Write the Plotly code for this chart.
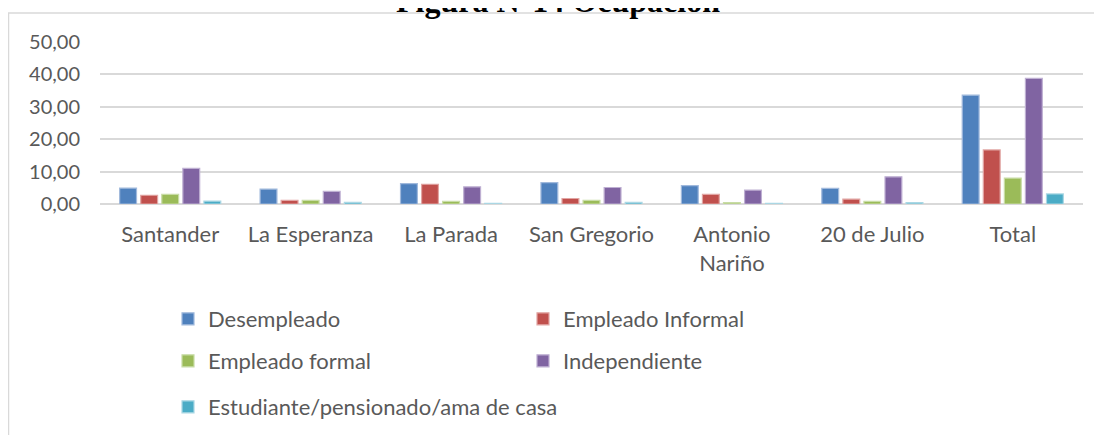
import plotly.graph_objects as go

categories = ["Santander", "La Esperanza", "La Parada", "San Gregorio", "Antonio<br>Nariño", "20 de Julio", "Total"]
desempleado = [4.9, 4.6, 6.3, 6.6, 5.7, 4.8, 33.6]
empleado_informal = [2.7, 1.1, 6.1, 1.7, 3.0, 1.5, 16.7]
empleado_formal = [3.0, 1.1, 0.8, 1.1, 0.4, 0.8, 8.0]
independiente = [11.0, 3.9, 5.3, 5.1, 4.3, 8.4, 38.8]
estudiante = [0.9, 0.5, 0.2, 0.5, 0.2, 0.4, 3.1]

series = [
    ("Desempleado", desempleado, "#4F81BD", "rgba(160,185,220,1)", "legend"),
    ("Empleado Informal", empleado_informal, "#C0504D", "rgba(225,165,163,1)", "legend"),
    ("Empleado formal", empleado_formal, "#9BBB59", "rgba(200,220,165,1)", "legend2"),
    ("Independiente", independiente, "#8064A2", "rgba(190,175,210,1)", "legend2"),
    ("Estudiante/pensionado/ama de casa", estudiante, "#4BACC6", "rgba(170,215,228,1)", "legend3"),
]

OFF = 8  # page body margin
W, H = 1102 - OFF, 435 - OFF
# plot area in screen pixels
SX0, SX1, SY0, SY1 = 100, 1083, 42, 204
L, R = SX0 - OFF, W - (SX1 - OFF)
T, B = SY0 - OFF, H - (SY1 - OFF)
pw, ph = SX1 - SX0, SY1 - SY0

def px_x(p):
    return (p - SX0) / pw

def px_y(p):
    return (SY1 - p) / ph

fig = go.Figure()
for name, vals, col, edge, lg in series:
    fig.add_trace(go.Bar(
        x=categories, y=vals, name=name, legend=lg,
        marker=dict(color=col, line=dict(color=edge, width=1.2)),
    ))

font_family = "Lato, 'Open Sans', sans-serif"
text_col = "#595959"

legend_common = dict(
    orientation="h", xanchor="left", yanchor="middle",
    font=dict(family=font_family, size=22, color=text_col),
    entrywidthmode="pixels", itemwidth=30,
    bgcolor="rgba(0,0,0,0)", traceorder="normal",
)

fig.update_layout(
    width=W, height=H,
    margin=dict(l=L, r=R, t=T, b=B, autoexpand=False),
    paper_bgcolor="white", plot_bgcolor="white",
    barmode="group", bargap=0.25, bargroupgap=0.2,
    separators=",.",
    font=dict(family=font_family, size=22, color=text_col),
    legend=dict(x=px_x(168), y=px_y(319), entrywidth=310, **legend_common),
    legend2=dict(x=px_x(168), y=px_y(361), entrywidth=310, **legend_common),
    legend3=dict(x=px_x(168), y=px_y(407), entrywidth=420, **legend_common),
    xaxis=dict(
        type="category", showgrid=False, showline=False, ticks="",
        tickfont=dict(family=font_family, size=22, color=text_col),
        ticklabelstandoff=15, tickangle=0,
    ),
    yaxis=dict(
        range=[0, 50], dtick=10, tickformat=".2f",
        showgrid=True, gridcolor="#D9D9D9", gridwidth=1.5,
        zeroline=True, zerolinecolor="#D9D9D9", zerolinewidth=1.5,
        showline=False, ticks="",
        tickfont=dict(family=font_family, size=20, color=text_col),
        ticklabelstandoff=19,
    ),
    shapes=[
        dict(type="line", xref="paper", yref="paper",
             x0=px_x(8), x1=px_x(1110), y0=px_y(13), y1=px_y(13),
             line=dict(color="#D9D9D9", width=1.5)),
        dict(type="line", xref="paper", yref="paper",
             x0=px_x(8.5), x1=px_x(8.5), y0=px_y(13), y1=px_y(445),
             line=dict(color="#D9D9D9", width=1.5)),
    ],
    annotations=[
        dict(text="<b>Figura N°14 Ocupación</b>", xref="paper", yref="paper",
             x=px_x(558), y=px_y(1), xanchor="center", yanchor="middle",
             showarrow=False,
             font=dict(family="'Liberation Serif', 'Times New Roman', serif", size=32, color="black")),
    ],
)

fig.write_html("out.html")
